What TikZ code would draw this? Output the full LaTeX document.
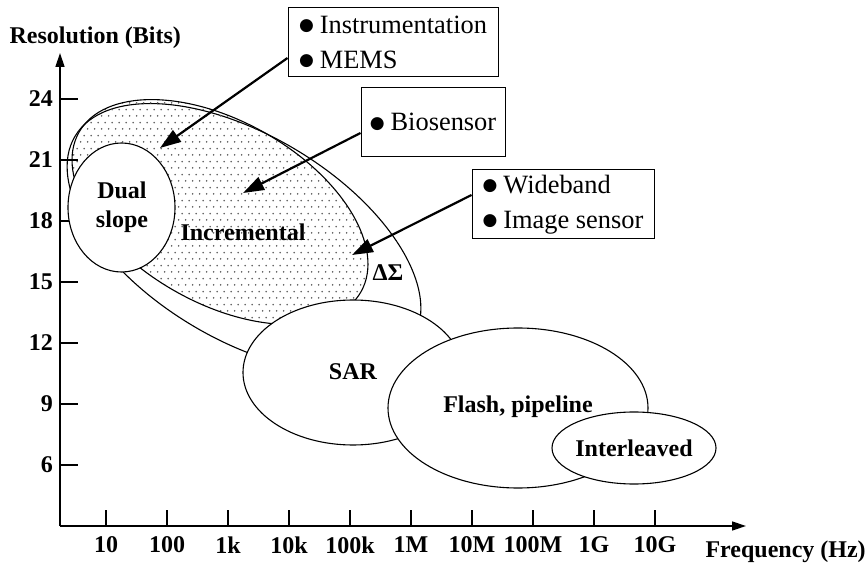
\documentclass[tikz,border=0pt]{standalone}
\usepackage{fontspec}
\setmainfont{Liberation Serif}
\newfontfamily\symfont{DejaVu Sans}
\usepackage{tikz}
\usetikzlibrary{arrows.meta,patterns.meta,calc}

\newcommand{\lblfont}{\fontsize{24}{29}\selectfont\bfseries}
\newcommand{\boxfont}{\fontsize{26.4}{35}\selectfont}
\newcommand{\bitem}{\raisebox{2.5pt}{\symfont\fontsize{17}{17}\selectfont ●}\hspace{6pt}}

\tikzdeclarepattern{
  name=incdots,
  type=uncolored,
  bounding box={(0pt,0pt) and (7.4pt,13.2pt)},
  tile size={(7.4pt,13.2pt)},
  code={
    \fill (1.85pt,3.3pt) circle [radius=0.95pt];
    \fill (5.55pt,9.9pt) circle [radius=0.95pt];
  }
}

\tikzset{
  appbox/.style={draw, line width=1pt, align=left, minimum height=69pt,
                 inner xsep=8pt, inner ysep=0pt, font=\boxfont},
  callout/.style={line width=2.2pt, -{Triangle[length=21pt,width=14pt]}},
  axisline/.style={line width=1.4pt, -{Triangle[length=14pt,width=9pt]}},
  tickmark/.style={line width=1.2pt},
  region/.style={draw, line width=1.1pt, fill=white},
  regionlbl/.style={font=\lblfont, align=center},
  ticklbl/.style={font=\lblfont, inner sep=0pt},
}

\begin{document}
\begin{tikzpicture}[x=1pt, y=-1pt]
\useasboundingbox (0,0) rectangle (868,564);
\def\yBase{526}   % x-axis height
\def\xBase{60}    % y-axis position
\def\tickStep{61} % spacing between ticks

%% Delta-Sigma and incremental regions
\draw[line width=1.1pt] (244,237.5) ellipse [x radius=197, y radius=102, rotate=-31];
\draw[line width=1.1pt, pattern=incdots, pattern color=black!65]
  (220,212) ellipse [x radius=162, y radius=91, rotate=-29.5];

%% Axes
\coordinate (orig) at (\xBase,\yBase);
\coordinate (ytop) at (\xBase,53);
\coordinate (xend) at (746,\yBase);
\draw[axisline] (orig) -- (ytop);
\draw[axisline] (orig) -- (xend);
\node[font=\lblfont, anchor=west] (ytitle) at (6,38) {Resolution (Bits)};
\node[font=\lblfont, anchor=west] (xtitle) at (702,552) {Frequency (Hz)};

\foreach \v/\y in {24/99, 21/160, 18/221, 15/282, 12/343, 9/404, 6/465} {
  \draw[tickmark] (\xBase,\y) -- (78,\y);
  \node[ticklbl, anchor=east] (yt\v) at (53,\y) {\v};
}
\foreach \lbl [count=\i] in {10,100,1k,10k,100k,1M,10M,100M,1G,10G} {
  \draw[tickmark] (45+\tickStep*\i,\yBase) -- (45+\tickStep*\i,510);
  \node[ticklbl] (xt\i) at (45+\tickStep*\i,545) {\lbl};
}

%% Converter regions
\draw[region] (121.5,207.5) ellipse [x radius=53.5, y radius=64.5];
\draw[region] (353,372.5) ellipse [x radius=110, y radius=72.5];
\draw[region] (518,408) ellipse [x radius=130, y radius=80];
\draw[region] (634,448) ellipse [x radius=82, y radius=36];

\node[regionlbl] (dual)  at (122,207) {Dual\\slope};
\node[regionlbl] (incr)  at (243,232) {Incremental};
\node[regionlbl] (dsig)  at (388,273) {ΔΣ};
\node[regionlbl] (sar)   at (353,372) {SAR};
\node[regionlbl] (flash) at (518,407) {Flash, pipeline};
\node[regionlbl] (intl)  at (634,448) {Interleaved};

%% Application boxes
\node[appbox, minimum width=210pt] (instbox) at (393,42)
  {\bitem Instrumentation\\\bitem MEMS};
\node[appbox, minimum width=144pt] (biobox) at (433,122) {\bitem Biosensor};
\node[appbox, minimum width=182pt] (bandbox) at (563,204.5)
  {\bitem Wideband\\\bitem Image sensor};

\coordinate (tipinst) at (160,148);
\coordinate (tipbio)  at (243,193);
\coordinate (tipband) at (352,255);
\draw[callout] ([yshift=-16pt]instbox.west) -- (tipinst);
\draw[callout] ([yshift=-11pt]biobox.west) -- (tipbio);
\draw[callout] ([yshift=9.5pt]bandbox.west) -- (tipband);
\end{tikzpicture}
\end{document}
